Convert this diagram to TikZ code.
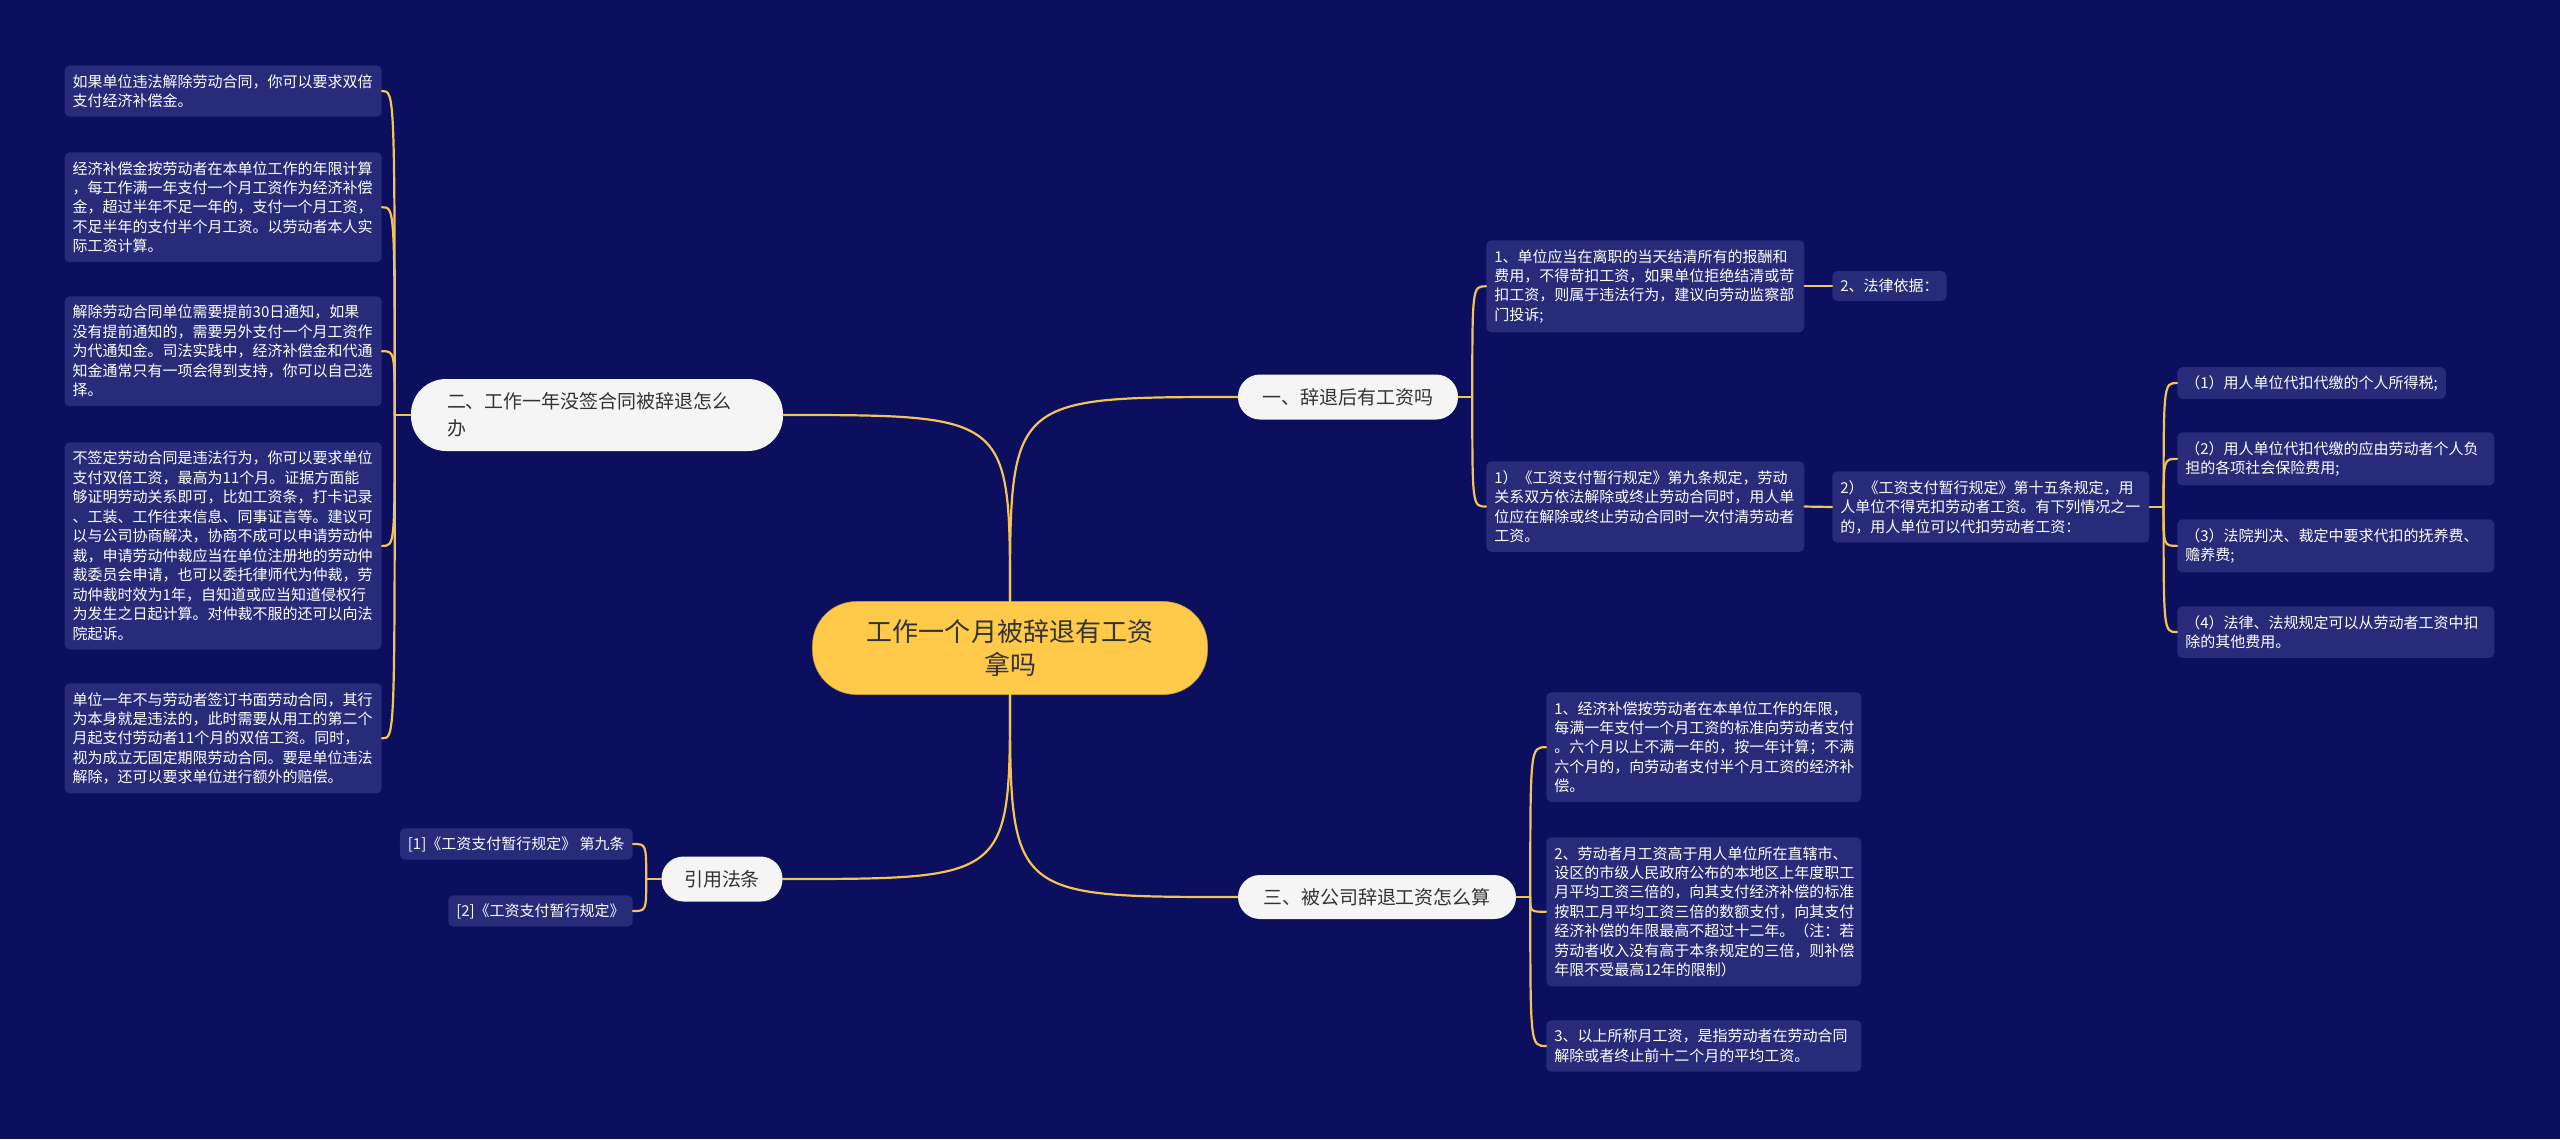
\documentclass[tikz,border=0pt]{standalone}
\usepackage{fontspec}
\setmainfont{Noto Sans CJK SC}
\newlength{\pxu}
\setlength{\pxu}{0.25mm}
\definecolor{bgc}{HTML}{0B0F5E}
\definecolor{leafc}{HTML}{272B7A}
\definecolor{linec}{HTML}{F2C455}
\definecolor{rootc}{HTML}{FFC94A}
\definecolor{pillc}{HTML}{F5F5F5}
\definecolor{inkc}{HTML}{333333}
\tikzset{
  leaf/.style={fill=leafc, text=white, rounded corners=5\pxu, align=left,
    inner xsep=8\pxu, inner ysep=9\pxu, font=\fontsize{10.67}{13.85}\selectfont},
  pill/.style={fill=pillc, text=inkc, inner sep=0pt, minimum height=45\pxu,
    rounded corners=22\pxu, font=\fontsize{13.5}{19.2}\selectfont},
  link/.style={draw=linec, line width=2.2\pxu, line cap=round},
}
\begin{document}
\begin{tikzpicture}[x=0.25mm, y=-0.25mm]
 \fill[bgc] (0,0) rectangle (2560,1139);
 % root and main branches
 \node[fill=rootc, draw=rootc!75!black, line width=0.6\pxu, text=inkc, align=center, inner sep=0pt,
   minimum width=395\pxu, minimum height=93\pxu, rounded corners=44\pxu,
   font=\fontsize{18.5}{23.5}\selectfont] (root) at (1010,648) {工作一个月被辞退有工资\\拿吗};
 \node[pill, minimum width=220\pxu] (one) at (1348,397) {一、辞退后有工资吗};
 \node[pill, minimum width=372\pxu, minimum height=72\pxu, rounded corners=35\pxu, text width=300\pxu, align=left] (two) at (597,415) {二、工作一年没签合同被辞退怎么\\办};
 \node[pill, minimum width=278\pxu, minimum height=44\pxu] (three) at (1377,897) {三、被公司辞退工资怎么算};
 \node[pill, minimum width=121\pxu] (cite) at (722,879) {引用法条};
 % left leaves
 \node[leaf, text width=301\pxu, anchor=north east] (l1) at (382,65) {如果单位违法解除劳动合同，你可以要求双倍\\支付经济补偿金。};
 \node[leaf, text width=301\pxu, anchor=north east] (l2) at (382,152) {经济补偿金按劳动者在本单位工作的年限计算\\，每工作满一年支付一个月工资作为经济补偿\\金，超过半年不足一年的，支付一个月工资，\\不足半年的支付半个月工资。以劳动者本人实\\际工资计算。};
 \node[leaf, text width=301\pxu, anchor=north east] (l3) at (382,296) {解除劳动合同单位需要提前30日通知，如果\\没有提前通知的，需要另外支付一个月工资作\\为代通知金。司法实践中，经济补偿金和代通\\知金通常只有一项会得到支持，你可以自己选\\择。};
 \node[leaf, text width=301\pxu, anchor=north east] (l4) at (382,442) {不签定劳动合同是违法行为，你可以要求单位\\支付双倍工资，最高为11个月。证据方面能\\够证明劳动关系即可，比如工资条，打卡记录\\、工装、工作往来信息、同事证言等。建议可\\以与公司协商解决，协商不成可以申请劳动仲\\裁，申请劳动仲裁应当在单位注册地的劳动仲\\裁委员会申请，也可以委托律师代为仲裁，劳\\动仲裁时效为1年，自知道或应当知道侵权行\\为发生之日起计算。对仲裁不服的还可以向法\\院起诉。};
 \node[leaf, text width=301\pxu, anchor=north east] (l5) at (382,683) {单位一年不与劳动者签订书面劳动合同，其行\\为本身就是违法的，此时需要从用工的第二个\\月起支付劳动者11个月的双倍工资。同时，\\视为成立无固定期限劳动合同。要是单位违法\\解除，还可以要求单位进行额外的赔偿。};
 % references
 \node[leaf, anchor=east, inner ysep=8\pxu] (r1) at (633,844) {[1]《工资支付暂行规定》 第九条};
 \node[leaf, anchor=east, inner ysep=8\pxu] (r2) at (633,911) {[2]《工资支付暂行规定》};
 % right side, branch one
 \node[leaf, text width=302\pxu, anchor=north west] (a1) at (1486,240) {1、单位应当在离职的当天结清所有的报酬和\\费用，不得苛扣工资，如果单位拒绝结清或苛\\扣工资，则属于违法行为，建议向劳动监察部\\门投诉;};
 \node[leaf, anchor=west, inner ysep=8\pxu, minimum width=114\pxu] (a1x) at (1832,286) {2、法律依据：};
 \node[leaf, text width=302\pxu, anchor=north west] (a2) at (1486,461) {1）《工资支付暂行规定》第九条规定，劳动\\关系双方依法解除或终止劳动合同时，用人单\\位应在解除或终止劳动合同时一次付清劳动者\\工资。};
 \node[leaf, text width=301\pxu, anchor=west] (a2x) at (1832,507) {2）《工资支付暂行规定》第十五条规定，用\\人单位不得克扣劳动者工资。有下列情况之一\\的，用人单位可以代扣劳动者工资：};
 \node[leaf, anchor=west, inner ysep=8\pxu] (d1) at (2177,383) {（1）用人单位代扣代缴的个人所得税;};
 \node[leaf, text width=301\pxu, anchor=north west] (d2) at (2177,432) {（2）用人单位代扣代缴的应由劳动者个人负\\担的各项社会保险费用;};
 \node[leaf, text width=301\pxu, anchor=north west] (d3) at (2177,519) {（3）法院判决、裁定中要求代扣的抚养费、\\赡养费;};
 \node[leaf, text width=301\pxu, anchor=north west] (d4) at (2177,606) {（4）法律、法规规定可以从劳动者工资中扣\\除的其他费用。};
 % right side, branch three
 \node[leaf, text width=299\pxu, anchor=north west] (e1) at (1546,692) {1、经济补偿按劳动者在本单位工作的年限，\\每满一年支付一个月工资的标准向劳动者支付\\。六个月以上不满一年的，按一年计算；不满\\六个月的，向劳动者支付半个月工资的经济补\\偿。};
 \node[leaf, text width=299\pxu, anchor=north west] (e2) at (1546,837) {2、劳动者月工资高于用人单位所在直辖市、\\设区的市级人民政府公布的本地区上年度职工\\月平均工资三倍的，向其支付经济补偿的标准\\按职工月平均工资三倍的数额支付，向其支付\\经济补偿的年限最高不超过十二年。（注：若\\劳动者收入没有高于本条规定的三倍，则补偿\\年限不受最高12年的限制）};
 \node[leaf, text width=299\pxu, anchor=north west] (e3) at (1546,1020) {3、以上所称月工资，是指劳动者在劳动合同\\解除或者终止前十二个月的平均工资。};
 % connectors
 \draw[link] (root.north) .. controls (root.north |- one.west) .. (one.west);
 \draw[link] (root.north) .. controls (root.north |- two.east) .. (two.east);
 \draw[link] (root.south) .. controls (root.south |- three.west) .. (three.west);
 \draw[link] (root.south) .. controls (root.south |- cite.east) .. (cite.east);
 \coordinate (j1) at ([xshift=14\pxu]one.east);
 \coordinate (j2) at ([xshift=-16\pxu]two.west);
 \coordinate (j3) at ([xshift=14\pxu]three.east);
 \coordinate (j4) at ([xshift=-15\pxu]cite.west);
 \coordinate (j5) at ([xshift=14\pxu]a2x.east);
 \draw[link] (one.east) -- (j1);
 \foreach \n in {a1,a2} \draw[link] (j1) .. controls (j1 |- \n.west) .. (\n.west);
 \draw[link] (two.west) -- (j2);
 \foreach \n in {l1,l2,l3,l4,l5} \draw[link] (j2) .. controls (j2 |- \n.east) .. (\n.east);
 \draw[link] (three.east) -- (j3);
 \foreach \n in {e1,e2,e3} \draw[link] (j3) .. controls (j3 |- \n.west) .. (\n.west);
 \draw[link] (cite.west) -- (j4);
 \foreach \n in {r1,r2} \draw[link] (j4) .. controls (j4 |- \n.east) .. (\n.east);
 \draw[link] (a2x.east) -- (j5);
 \foreach \n in {d1,d2,d3,d4} \draw[link] (j5) .. controls (j5 |- \n.west) .. (\n.west);
 \draw[link] (a1.east) -- (a1.east -| a1x.west);
 \draw[link] (a2.east) -- (a2x.west);
\end{tikzpicture}
\end{document}
